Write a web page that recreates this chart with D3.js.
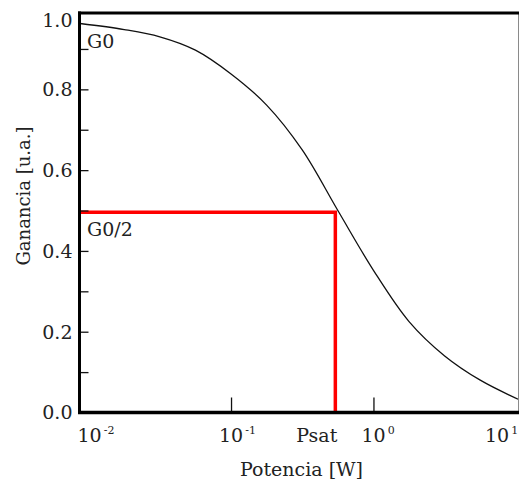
<!DOCTYPE html>
<html>
<head>
<meta charset="utf-8">
<script src="https://cdn.jsdelivr.net/npm/d3@7/dist/d3.min.js"></script>
<style>
  html, body { margin: 0; padding: 0; background: #fff; }
  svg { display: block; }
  text { font-family: "DejaVu Serif", "Liberation Serif", serif; fill: #222; }
</style>
</head>
<body>
<svg id="chart" width="519" height="484"></svg>
<script>
// Gain saturation curve: gain (arbitrary units) vs. input power (W), log axis
const power = [0.00871, 0.01778, 0.03162, 0.05623, 0.1, 0.1778, 0.3162,
               0.5623, 1.0, 1.778, 3.162, 5.623, 10.35];
const gain  = [0.963, 0.948, 0.930, 0.897, 0.838, 0.761, 0.650,
               0.500, 0.352, 0.225, 0.140, 0.080, 0.033];

const psat = 0.54;        // saturation power
const halfGain = 0.496;   // G0/2 level

const xTickValues = [0.01, 0.1, 1, 10];
const xTickExponents = ["-2", "-1", "0", "1"];
const yLabelValues = [0, 0.2, 0.4, 0.6, 0.8, 1.0];
const yMinorValues = [0.1, 0.2, 0.3, 0.4, 0.5, 0.6, 0.7, 0.8, 0.9];

const xTitle = "Potencia [W]";
const yTitle = "Ganancia [u.a.]";

const svg = d3.select("#chart");
const plotL = 79.5, plotR = 518, plotT = 13, plotB = 412.5;

const x = d3.scaleLog().domain([0.00863, 10.35]).range([plotL, plotR]);
const y = d3.scaleLinear().domain([0, 0.989]).range([plotB, plotT]);

// clip for marks inside the frame
svg.append("defs").append("clipPath").attr("id", "plot")
  .append("rect").attr("x", plotL).attr("y", plotT).attr("width", plotR - plotL).attr("height", plotB - plotT);

// right frame edge (thin grey)
svg.append("line")
  .attr("x1", plotR + 0.5).attr("x2", plotR + 0.5).attr("y1", plotT).attr("y2", plotB)
  .attr("stroke", "#8a8a8a").attr("stroke-width", 1);

// gain curve
const pts = power.map((p, i) => [p, gain[i]]);
svg.append("path")
  .datum(pts)
  .attr("clip-path", "url(#plot)")
  .attr("fill", "none")
  .attr("stroke", "#111")
  .attr("stroke-width", 1.3)
  .attr("d", d3.line().x(d => x(d[0])).y(d => y(d[1])).curve(d3.curveCatmullRom.alpha(0.5)));

// Psat / G0/2 guide lines
svg.append("path")
  .attr("fill", "none")
  .attr("stroke", "#ff0000")
  .attr("stroke-width", 3.5)
  .attr("d", `M${x(0.00863)},${y(halfGain)}H${x(psat)}V${plotB}`);

// y axis: minor ticks pointing into the plot
const yTicks = svg.append("g").attr("transform", `translate(${plotL},0)`)
  .call(d3.axisLeft(y).tickValues(yMinorValues).tickSizeInner(-9).tickSizeOuter(0).tickFormat(""));
yTicks.select(".domain").remove();
yTicks.selectAll(".tick line").attr("stroke", "#111").attr("stroke-width", 1.3);

// y axis labels (top label held just inside the frame)
const yLab = svg.append("g").attr("transform", `translate(${plotL - 7},0)`)
  .call(d3.axisLeft(y).tickValues(yLabelValues).tickSize(0).tickPadding(0).tickFormat(d3.format(".1f")));
yLab.select(".domain").remove();
yLab.selectAll(".tick")
  .attr("transform", d => `translate(0,${Math.max(y(d), plotT + 7)})`);
yLab.selectAll(".tick text")
  .attr("font-family", "DejaVu Serif").attr("font-size", 19).attr("fill", "#222")
  .attr("dy", "0.36em");

// x axis: ticks pointing up into the plot at interior decades
const xTicks = svg.append("g").attr("transform", `translate(0,${plotB})`)
  .call(d3.axisBottom(x).tickValues(xTickValues.filter(v => x(v) > plotL + 20 && x(v) < plotR - 20))
    .tickSizeInner(-15).tickSizeOuter(0).tickFormat(""));
xTicks.select(".domain").remove();
xTicks.selectAll(".tick line").attr("stroke", "#111").attr("stroke-width", 1.3);

// x labels as 10 with superscript exponent, kept inside the page
const xl = svg.append("g");
xTickValues.forEach((v, i) => {
  const px = Math.min(Math.max(x(v) - 12, plotL - 2), 485);
  const t = xl.append("text").attr("x", px).attr("y", 441.5).attr("font-size", 19);
  t.append("tspan").text("10");
  t.append("tspan").attr("font-size", 11).attr("dx", 2).attr("dy", -8).text(xTickExponents[i]);
});

// Psat label under its guide line
svg.append("text").attr("x", x(psat) + 2).attr("y", 441.5)
  .attr("text-anchor", "end").attr("font-size", 19).text("Psat");

// curve annotations
svg.append("text").attr("x", 87).attr("y", 48).attr("font-size", 19).text("G0");
svg.append("text").attr("x", 87).attr("y", 236).attr("font-size", 19).text("G0/2");

// frame: left axis, bottom axis, top border
svg.append("line").attr("x1", plotL).attr("x2", plotL).attr("y1", plotT - 1.5).attr("y2", plotB + 1.5)
  .attr("stroke", "#000").attr("stroke-width", 3);
svg.append("line").attr("x1", plotL - 1.5).attr("x2", 519).attr("y1", plotB).attr("y2", plotB)
  .attr("stroke", "#000").attr("stroke-width", 3.5);
svg.append("line").attr("x1", plotL - 1.5).attr("x2", 519).attr("y1", plotT).attr("y2", plotT)
  .attr("stroke", "#000").attr("stroke-width", 3);

// axis titles
svg.append("text").attr("x", 301.5).attr("y", 476).attr("text-anchor", "middle")
  .attr("font-size", 19).text(xTitle);
svg.append("text")
  .attr("transform", "translate(30,196) rotate(-90)")
  .attr("text-anchor", "middle")
  .attr("font-family", "Liberation Serif")
  .attr("font-size", 18).text(yTitle);
</script>
</body>
</html>
